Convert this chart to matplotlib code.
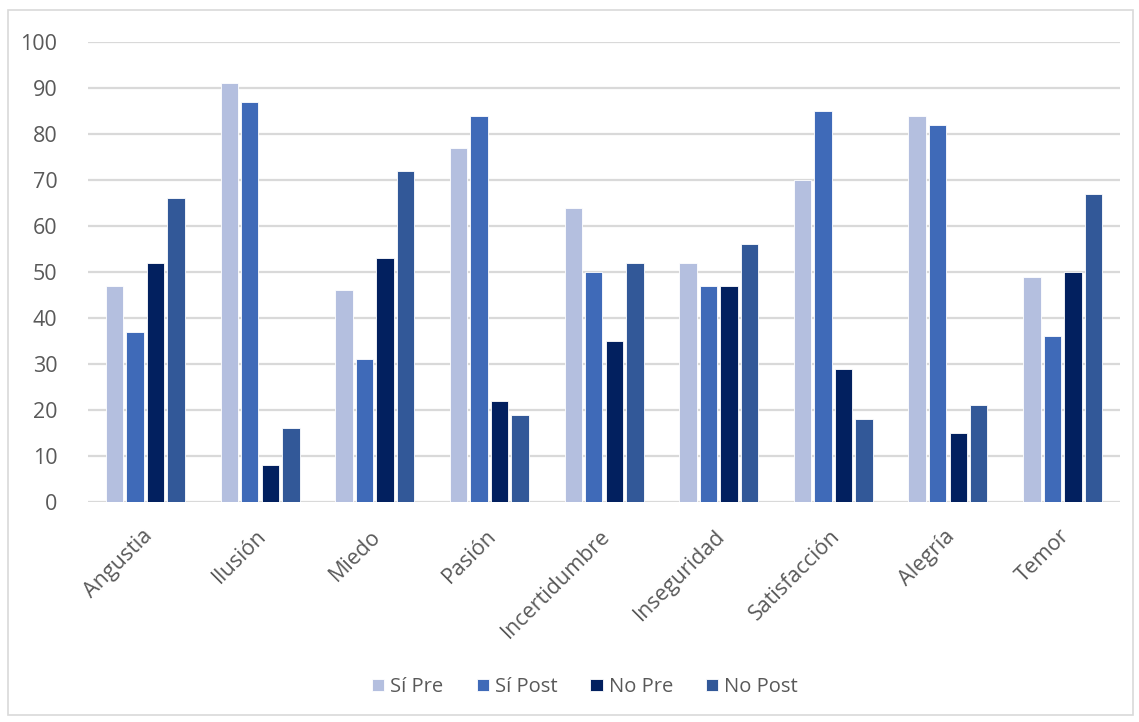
import numpy as np
import matplotlib
matplotlib.use("Agg")
import matplotlib.pyplot as plt
import matplotlib.transforms as mtransforms
from matplotlib.patches import Rectangle

categorias = ["Angustia", "Ilusión", "Miedo", "Pasión", "Incertidumbre",
              "Inseguridad", "Satisfacción", "Alegría", "Temor"]
si_pre = [47, 91, 46, 77, 64, 52, 70, 84, 49]
si_post = [37, 87, 31, 84, 50, 47, 85, 82, 36]
no_pre = [52, 8, 53, 22, 35, 47, 29, 15, 50]
no_post = [66, 16, 72, 19, 52, 56, 18, 21, 67]

series = [("Sí Pre", si_pre, "#b4bfdf"),
          ("Sí Post", si_post, "#3f6ab8"),
          ("No Pre", no_pre, "#02205f"),
          ("No Post", no_post, "#325898")]

plt.rcParams['font.family'] = ['Open Sans', 'DejaVu Sans']

fig = plt.figure(figsize=(11.39, 7.22), dpi=100)
ax = fig.add_axes([0.0773, 0.3047, 0.906, 0.6371])

# borde exterior del grafico
fig.patches.append(Rectangle((8 / 1139, 7 / 722), 1125 / 1139, 705 / 722,
                             transform=fig.transFigure, fill=False,
                             edgecolor="#d9d9d9", linewidth=1.2))

x = np.arange(len(categorias))
slot = 0.179
width = 0.152
for i, (nombre, vals, color) in enumerate(series):
    ax.bar(x + (i - 1.5) * slot, vals, width, color=color, label=nombre,
           edgecolor="white", linewidth=0.6, zorder=3)

ax.set_xlim(-0.5, len(categorias) - 0.5)
ax.set_ylim(0, 100)
ax.set_yticks(range(0, 101, 10))
ax.yaxis.grid(True, color="#d9d9d9", linewidth=1.6, zorder=0)
ax.set_axisbelow(True)
for s in ax.spines.values():
    s.set_visible(False)
ax.tick_params(axis="both", length=0, colors="#595959", labelsize=15.5)
ax.tick_params(axis="y", pad=22)
ax.set_xticks(x)
ax.set_xticklabels(categorias, rotation=45, ha="right", rotation_mode="anchor")
ax.tick_params(axis="x", pad=17)
desplaza = mtransforms.ScaledTranslation(-4 / 100, 0, fig.dpi_scale_trans)
for lab in ax.get_xticklabels():
    lab.set_transform(lab.get_transform() + desplaza)

ax.legend(loc="center", bbox_to_anchor=(585 / 1139, (722 - 687) / 722), bbox_transform=fig.transFigure,
          ncol=4, frameon=False, fontsize=14.5, handlelength=0.6, handleheight=0.6,
          columnspacing=1.65, handletextpad=0.3, labelcolor="#595959")

fig.savefig("out.png", dpi=100)
